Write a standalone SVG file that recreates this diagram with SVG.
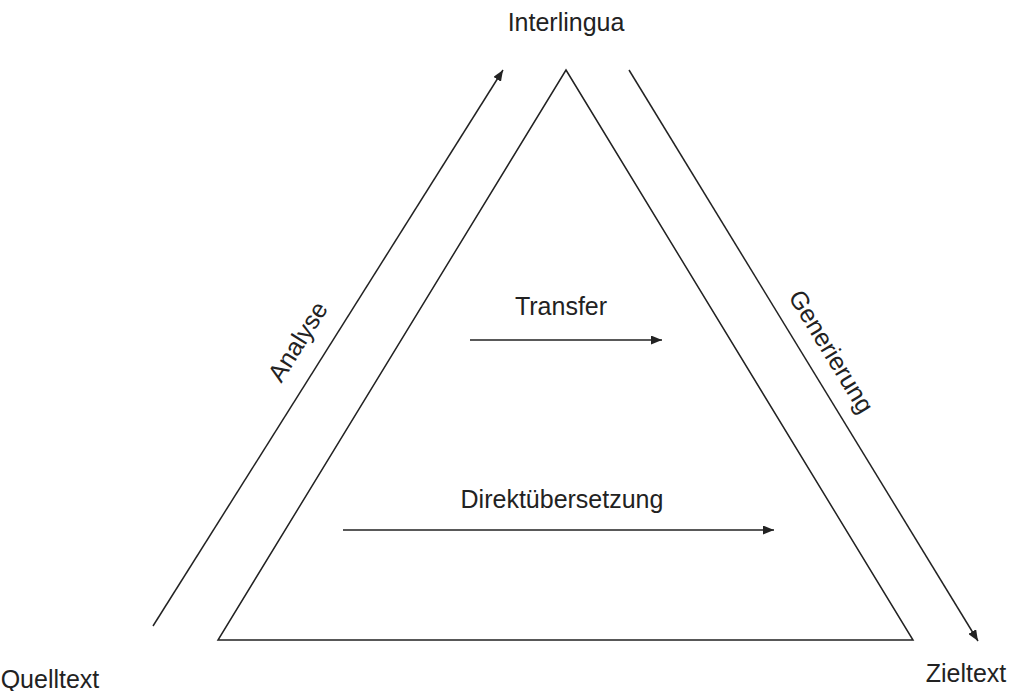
<svg xmlns="http://www.w3.org/2000/svg" width="1011" height="691" viewBox="0 0 1011 691">
<defs>
<style>
text{font-family:"Liberation Sans",Arial,sans-serif;font-size:25px;fill:#222}
.ln{stroke:#222;stroke-width:1.5;fill:none}
</style>
<marker id="ah" viewBox="0 0 10 10" refX="10" refY="5" markerWidth="11" markerHeight="9" markerUnits="userSpaceOnUse" orient="auto" preserveAspectRatio="none">
<path d="M0,0 L10,5 L0,10 z" fill="#222"/>
</marker>
</defs>
<rect width="1011" height="691" fill="#fff"/>
<g id="triangle"><polygon class="ln" points="566,70 913,640 218,640"/></g>
<g id="connectors">
<line class="ln" x1="153" y1="626" x2="503" y2="70" marker-end="url(#ah)"/>
<line class="ln" x1="629" y1="70" x2="978" y2="641" marker-end="url(#ah)"/>
<line class="ln" x1="470" y1="340" x2="662" y2="340" marker-end="url(#ah)"/>
<line class="ln" x1="343" y1="530" x2="774" y2="530" marker-end="url(#ah)"/>
</g>
<g id="interlingua"><text x="566" y="31" text-anchor="middle">Interlingua</text></g>
<g id="quelltext"><text x="50" y="688" text-anchor="middle">Quelltext</text></g>
<g id="zieltext"><text x="966" y="682" text-anchor="middle">Zieltext</text></g>
<g id="transfer"><text x="561" y="315" text-anchor="middle">Transfer</text></g>
<g id="direkt"><text x="562" y="508" text-anchor="middle">Direktübersetzung</text></g>
<g id="analyse"><text transform="translate(305,346) rotate(-57.8)" text-anchor="middle">Analyse</text></g>
<g id="generierung"><text transform="translate(824,356) rotate(58.6)" text-anchor="middle">Generierung</text></g>
</svg>
